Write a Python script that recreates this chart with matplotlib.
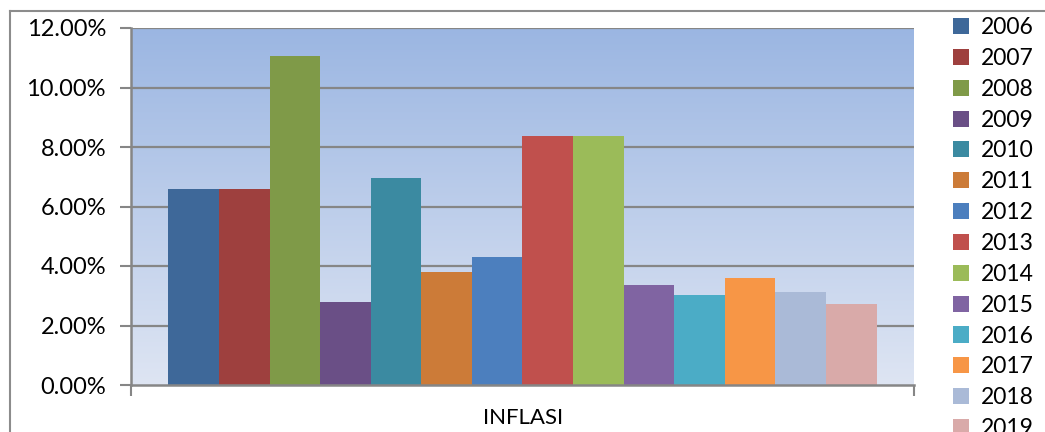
import numpy as np
import matplotlib.pyplot as plt
from matplotlib.lines import Line2D
from matplotlib.ticker import FuncFormatter

years = ["2006", "2007", "2008", "2009", "2010", "2011", "2012",
         "2013", "2014", "2015", "2016", "2017", "2018", "2019"]
inflasi = [6.60, 6.59, 11.06, 2.78, 6.96, 3.79, 4.30,
           8.38, 8.36, 3.35, 3.02, 3.61, 3.13, 2.72]
colors = ["#3E6899", "#9E403E", "#7F9A48", "#6A4F86", "#3B8AA1", "#CC7B38", "#4C7FBE",
          "#C0504D", "#9BBB59", "#8064A2", "#4BACC6", "#F79646", "#AABAD7", "#D9AAA9"]

plt.rcParams["font.family"] = ["Lato", "DejaVu Sans"]

fig = plt.figure(figsize=(10.45, 4.32), dpi=100)
ax = fig.add_axes([131 / 1045, 47 / 432, 783 / 1045, 357 / 432])

# chart area border (top and left edges visible)
fig.add_artist(Line2D([10 / 1045, 1], [1 - 11 / 432, 1 - 11 / 432], color="#8C8C8C", lw=1.5))
fig.add_artist(Line2D([10 / 1045, 10 / 1045], [0, 1 - 11 / 432], color="#8C8C8C", lw=1.5))

pad = 0.74
ax.set_xlim(-0.5 - pad, len(years) - 0.5 + pad)
ax.set_ylim(0, 12)

# gradient plot background
grad = np.linspace(0, 1, 256).reshape(-1, 1)
top = np.array([155, 182, 226]) / 255
bot = np.array([222, 229, 243]) / 255
img = bot + (top - bot) * grad
ax.imshow(img.reshape(256, 1, 3), extent=[*ax.get_xlim(), 0, 12], aspect="auto",
          origin="lower", zorder=0)

for y in range(2, 13, 2):
    ax.axhline(y, color="#868686", lw=1.6, zorder=1)

for i, (yr, v) in enumerate(zip(years, inflasi)):
    ax.bar(i, v, width=1.0, color=colors[i], label=yr, zorder=2)

ax.set_yticks(range(0, 13, 2))
ax.yaxis.set_major_formatter(FuncFormatter(lambda v, p: f"{v:.2f}%"))
ax.tick_params(axis="y", length=8, width=1.5, color="#868686", labelsize=17, pad=10)
ax.set_xticks([-0.5 - pad, len(years) - 0.5 + pad])
ax.set_xticklabels([])
ax.tick_params(axis="x", length=8, width=1.5, color="#868686")
for s in ["top", "right"]:
    ax.spines[s].set_visible(False)
for s in ["left", "bottom"]:
    ax.spines[s].set_color("#868686")
    ax.spines[s].set_linewidth(1.8)

fig.text(523 / 1045, 1 - 418 / 432, "INFLASI", ha="center", va="center", fontsize=16)

leg = ax.legend(loc="upper left", bbox_to_anchor=(953 / 1045, 1 - 17 / 432),
                bbox_transform=fig.transFigure, frameon=False, fontsize=16.5,
                handlelength=0.7, handleheight=0.7, handletextpad=0.5,
                labelspacing=0.43, borderaxespad=0, borderpad=0)

fig.savefig("out.png", dpi=100)
